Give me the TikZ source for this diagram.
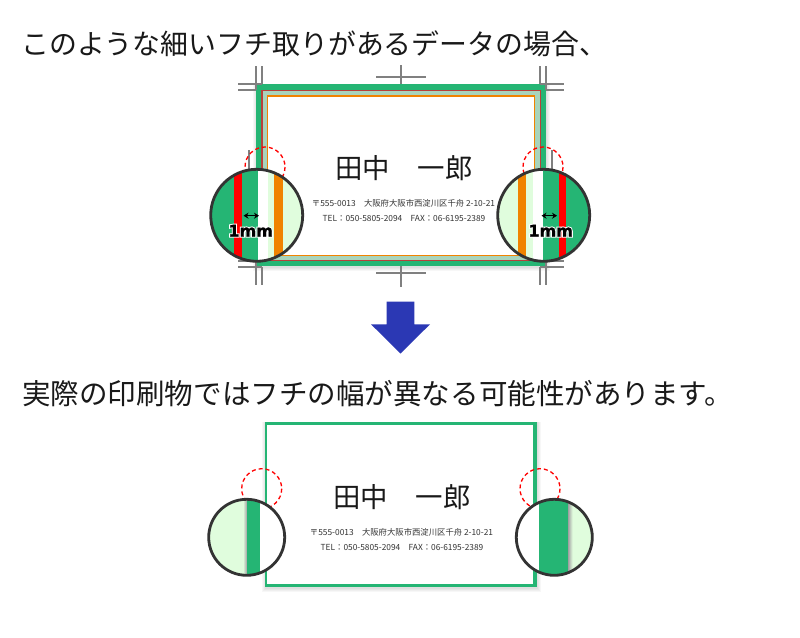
\documentclass[tikz,border=0pt]{standalone}
\usepackage{fontspec, xcolor}
\usetikzlibrary{arrows.meta}
\setmainfont{Noto Sans CJK JP}
\newfontfamily\mmfont[UprightFont=* Bold, FakeBold=1.5]{DejaVu Sans}
\newfontfamily\mmhalo[UprightFont=* Bold, FakeBold=14]{DejaVu Sans}
\definecolor{fuchigreen}{HTML}{25B574}
\definecolor{palegreen}{HTML}{E0FDDD}
\definecolor{fuchired}{HTML}{FF0000}
\definecolor{fuchiline}{HTML}{B8403A}
\definecolor{fuchiorange}{HTML}{F08300}
\definecolor{fuchiblue}{HTML}{2B38B4}
\definecolor{lensgray}{HTML}{333333}
\definecolor{fuchigap}{HTML}{A8D4BC}
\tikzset{
  headline/.style={anchor=west, inner sep=0pt, font=\fontsize{27.9}{30}\selectfont, text=black!90},
  cardname/.style={inner sep=0pt, font=\fontsize{27.4}{30}\selectfont, text=black!90},
  cardline/.style={inner sep=0pt, font=\fontsize{8.35}{10}\selectfont, text=black!80},
  cropmark/.style={draw=black!50, line width=1.1pt},
  spot/.style={draw=red, dash pattern=on 4pt off 3pt, line width=1.3pt},
  lensring/.style={draw=lensgray, line width=2.8pt},
  spanarrow/.style={{Stealth[length=5pt,width=6pt]}-{Stealth[length=5pt,width=6pt]}, line width=1.2pt},
}
\newcommand{\mmlabel}{\fontsize{16}{18}\selectfont\rlap{\mmhalo\textcolor{white}{1mm}}\mmfont 1mm}
\begin{document}
\begin{tikzpicture}[x=1pt, y=-1pt]
\useasboundingbox (0, 0) rectangle (800, 637);
\fill [white] (0, 0) rectangle (800, 637);
%Text
\draw (21, 44) node (headtop) [headline] {このような細いフチ取りがあるデータの場合、};
\draw (22, 394) node (headbottom) [headline, font=\fontsize{28.55}{30}\selectfont] {実際の印刷物ではフチの幅が異なる可能性があります。};
%Top card
\foreach \g in {1,...,4}
  \fill [black, opacity=0.03] (256-\g+1, 84) rectangle (546+\g, 266+\g+1);
\fill [fuchigreen] (256, 84) rectangle (546, 266);
\fill [fuchiline] (261.2, 89.5) rectangle (541.3, 261.3);
\fill [fuchigap] (262.8, 91.1) rectangle (539.7, 259.7);
\fill [fuchiorange] (266.8, 95.2) rectangle (534.8, 255.8);
\fill [white] (268, 96.6) rectangle (533.6, 254.5);
%Crop marks
\draw [cropmark] (256, 66) -- (256, 90);
\draw [cropmark] (262, 66) -- (262, 84);
\draw [cropmark] (238, 84) -- (262, 84);
\draw [cropmark] (238, 90) -- (256, 90);
\draw [cropmark] (540, 66) -- (540, 84);
\draw [cropmark] (546, 66) -- (546, 90);
\draw [cropmark] (540, 84) -- (564, 84);
\draw [cropmark] (546, 90) -- (564, 90);
\draw [cropmark] (256, 261) -- (256, 285);
\draw [cropmark] (262, 267) -- (262, 285);
\draw [cropmark] (238, 267) -- (262, 267);
\draw [cropmark] (238, 261) -- (256, 261);
\draw [cropmark] (540, 267) -- (540, 285);
\draw [cropmark] (546, 261) -- (546, 285);
\draw [cropmark] (540, 267) -- (564, 267);
\draw [cropmark] (546, 261) -- (564, 261);
\draw [cropmark] (376, 77) -- (426, 77);
\draw [cropmark] (401, 65) -- (401, 84);
\draw [cropmark] (376, 273) -- (426, 273);
\draw [cropmark] (401, 266) -- (401, 287);
\draw [cropmark] (249, 150) -- (249, 172);
\draw [cropmark] (552, 150) -- (552, 172);
%Top card text
\draw (404, 168) node (nametop) [cardname] {田中　一郎};
\draw (403.5, 203.7) node (addresstop) [cardline] {〒555-0013　大阪府大阪市西淀川区千舟 2-10-21};
\draw (404, 218.5) node (teltop) [cardline] {TEL：050-5805-2094　FAX：06-6195-2389};
%Arrow
\fill [fuchiblue] (386.7, 301.7) -- (414.3, 301.7) -- (414.3, 324.3) -- (430, 324.3) -- (400.5, 353.5) -- (371, 324.3) -- (386.7, 324.3) -- cycle;
%Top spots
\draw [spot] (265, 167) circle (20);
\draw [spot] (543, 167) circle (20);
%Top left lens
\begin{scope}
\clip (256.7, 215.3) circle (46);
\fill [fuchigreen] (210, 169) rectangle (234, 262);
\fill [fuchired] (234, 169) rectangle (242, 262);
\fill [fuchigreen] (242, 169) rectangle (257.7, 262);
\fill [white] (257.7, 169) rectangle (268.3, 262);
\fill [palegreen] (268.3, 169) rectangle (274, 262);
\fill [fuchiorange] (274, 169) rectangle (282.7, 262);
\fill [palegreen] (282.7, 169) rectangle (303, 262);
\end{scope}
\draw [lensring] (256.7, 215.3) circle (46);
\draw [spanarrow] (243.5, 215.7) -- (259, 215.7);
\draw (250.7, 230.7) node (mmleft) [inner sep=0pt] {\mmlabel};
%Top right lens
\begin{scope}
\clip (543.7, 215.3) circle (46);
\fill [palegreen] (497, 169) rectangle (518.3, 262);
\fill [fuchiorange] (518.3, 169) rectangle (526, 262);
\fill [palegreen] (526, 169) rectangle (533.3, 262);
\fill [white] (533.3, 169) rectangle (543.3, 262);
\fill [fuchigreen] (543.3, 169) rectangle (558.7, 262);
\fill [fuchired] (558.7, 169) rectangle (566, 262);
\fill [fuchigreen] (566, 169) rectangle (590, 262);
\end{scope}
\draw [lensring] (543.7, 215.3) circle (46);
\draw [spanarrow] (541.5, 215.7) -- (557, 215.7);
\draw (550.7, 230.7) node (mmright) [inner sep=0pt] {\mmlabel};
%Bottom card
\foreach \g in {1,...,4}
  \fill [black, opacity=0.03] (265.3-\g+1, 422) rectangle (537.3+\g, 586.7+\g+1);
\fill [fuchigreen] (265.3, 422) rectangle (537.3, 586.7);
\fill [white] (266.5, 424.7) rectangle (532.7, 584);
\draw (402, 497) node (namebottom) [cardname] {田中　一郎};
\draw (401.5, 532.7) node (addressbottom) [cardline] {〒555-0013　大阪府大阪市西淀川区千舟 2-10-21};
\draw (402, 547.3) node (telbottom) [cardline] {TEL：050-5805-2094　FAX：06-6195-2389};
%Bottom spots
\draw [spot] (261.7, 488.7) circle (20);
\draw [spot] (540, 488.7) circle (20);
%Bottom left lens
\begin{scope}
\clip (246.7, 537.3) circle (38);
\fill [white] (208, 499) rectangle (285, 576);
\fill [palegreen] (208, 499) rectangle (246.7, 576);
\shade [left color=palegreen, right color=black!35] (243, 499) rectangle (246.7, 576);
\fill [fuchigreen] (246.7, 499) rectangle (260, 576);
\end{scope}
\draw [lensring] (246.7, 537.3) circle (38);
%Bottom right lens
\begin{scope}
\clip (554.3, 537.3) circle (38);
\fill [white] (516, 499) rectangle (539, 576);
\fill [palegreen] (568.3, 499) rectangle (593, 576);
\shade [left color=black!35, right color=palegreen] (568.3, 499) rectangle (572.5, 576);
\fill [fuchigreen] (539, 499) rectangle (568.3, 576);
\end{scope}
\draw [lensring] (554.3, 537.3) circle (38);
\end{tikzpicture}
\end{document}
